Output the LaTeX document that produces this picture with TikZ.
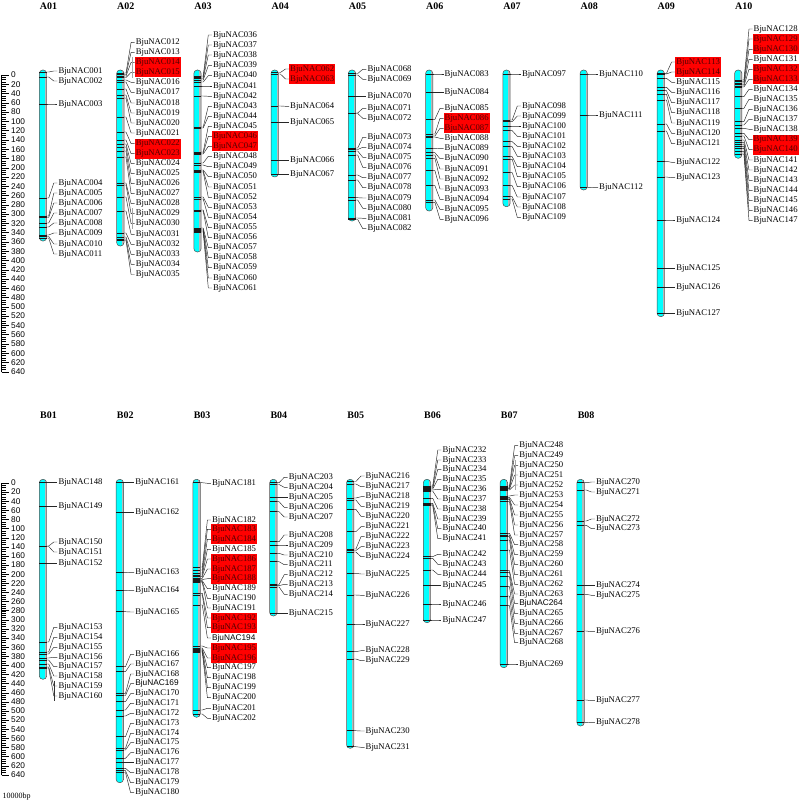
\documentclass[tikz,border=0pt]{standalone}
\usepackage{fontspec}
\setmainfont{Liberation Serif}
\setsansfont{Liberation Sans}
\usetikzlibrary{calc}
\definecolor{boxtext}{RGB}{80,0,0}
\definecolor{chromocyan}{RGB}{0,255,255}

\tikzset{
  labn/.style={anchor=west, font=\fontsize{8.7}{9}\selectfont, inner xsep=1pt, inner ysep=1pt, text height=6.3pt, text depth=1.9pt},
  labr/.style={labn, fill=red, text=boxtext},
  labs/.style={labn, font=\sffamily\fontsize{8.3}{9}\selectfont},
  lead/.style={line width=0.45pt, black!85},
  band/.style={line width=0.45pt, black!90},
  title/.style={font=\bfseries\fontsize{10}{12}\selectfont},
  tandem/.style={gray!70, line width=1pt},
  scalelab/.style={anchor=west, inner sep=0pt, font=\sffamily\fontsize{8.3}{9}\selectfont},
}

% chromosome: name, x centre, top, bottom, title y
\newcommand{\chromosome}[5]{%
  \begin{scope}
    \clip[rounded corners=3.5pt] (#2-3.7,#3) rectangle (#2+3.7,#4);
    \fill[chromocyan] (#2-3.7,#3) rectangle (#2+3.7,#4);
    \fill[gray!55] (#2+1.8,#3) rectangle (#2+3.7,#4);
  \end{scope}
  \draw[black!70, line width=0.5pt, rounded corners=3.5pt] (#2-3.7,#3) rectangle (#2+3.7,#4);
  \node[title] (t#1) at (#2+5.5,#5) {#1};
}
% genes: x centre, list marker/label/number/style
\newcommand{\genes}[2]{%
  \foreach \m/\l/\n/\s in {#2} {
    \coordinate (m\n) at (#1+3.7,\m);
    \node[style=lab\s] (g\n) at (#1+14.3,\l) {BjuNAC\n};
    \draw[band] (#1-3.7,\m) -- (m\n);
    \draw[lead] (m\n) -- ++(2,0) -- ($(g\n.west)+(-3.5,0)$) -- (g\n.west);
  }
}
% scale bar: y of 0, px per unit
\newcommand{\scalebar}[2]{%
  \draw[line width=0.5pt] (1.5,#1) -- (1.5,#1+640*#2);
  \foreach \u in {0,5,...,640} {\draw[line width=0.35pt] (1.5,#1+\u*#2) -- ++(4.5,0);}
  \foreach \u in {0,20,...,640} {
    \draw[line width=0.4pt] (1.5,#1+\u*#2) -- ++(7,0);
    \node[scalelab] at (11,#1+\u*#2) {\u};
  }
}

\begin{document}
\begin{tikzpicture}[x=1pt,y=-1pt]
  \useasboundingbox (0,0) rectangle (800,805);
  \scalebar{75}{0.4636}
  \scalebar{483}{0.456}
  \node[anchor=west, inner sep=0pt, font=\fontsize{8}{9}\selectfont] (unit) at (2.5,797) {10000bp};

  % A genome
  \chromosome{A01}{43}{70}{241}{6}
  \genes{43}{72/71/001/n, 77/81/002/n, 104/104/003/n, 198/183/004/n, 216/193/005/n, 217.5/203/006/n,
    223/213/007/n, 227/223/008/n, 235/233/009/n, 236.5/244/010/n, 238/254/011/n}

  \chromosome{A02}{120.3}{70}{246}{6}
  \genes{120.3}{73/42.3/012/n, 74.5/52.3/013/n, 76/62.3/014/r, 77.5/72.3/015/r, 80/82.3/016/n, 82/92.3/017/n,
    89/103/018/n, 95/113/019/n, 98/123/020/n, 117/133/021/n, 132/143.7/022/r, 140/153.7/023/r,
    144/163.7/024/n, 147/173.7/025/n, 151/183.7/026/n, 157/193.7/027/n, 183/203.7/028/n, 185/213.7/029/n,
    197/223.7/030/n, 211/234.3/031/n, 233/244.3/032/n, 237/254.3/033/n, 239/264.3/034/n, 240.5/274.5/035/n}
  \draw[tandem] ([xshift=-2.5pt]g014.north west) -- ([xshift=-2.5pt]g015.south west);
  \draw[tandem] ([xshift=-2.5pt]g029.north west) -- ([xshift=-2.5pt]g030.south west);

  \chromosome{A03}{197.5}{70}{252}{6}
  \genes{197.5}{76/35/036/n, 77/45/037/n, 78.5/55/038/n, 80/65.7/039/n, 82/75.7/040/n, 86/86/041/n,
    96/96.3/042/n, 127/106.3/043/n, 128/116.3/044/n, 152/126.3/045/n, 153/136.3/046/r, 154/146.3/047/r,
    163/156.3/048/n, 165/166.7/049/n, 170/176.7/050/n, 171/187/051/n, 172/197.3/052/n, 197/207.3/053/n,
    199/217.3/054/n, 210/227.7/055/n, 211/237.7/056/n, 228/247.7/057/n, 229/257.7/058/n, 230/267.7/059/n,
    231/278/060/n, 232/288/061/n}

  \chromosome{A04}{274.7}{70}{177}{6}
  \genes{274.7}{72.5/69/062/r, 74/79/063/r, 106/106.3/064/n, 122.7/122.7/065/n, 160.3/160.3/066/n, 174.3/174.3/067/n}

  \chromosome{A05}{352}{70}{221}{6}
  \genes{352}{73.5/69.3/068/n, 75/79.3/069/n, 96.3/96.3/070/n, 113/108.3/071/n, 113.5/118.3/072/n,
    148/137.3/073/n, 149.5/147.3/074/n, 151/157.3/075/n, 155/167.3/076/n, 175/177.7/077/n, 180/187.7/078/n,
    197.7/198/079/n, 200/208.3/080/n, 218/218.3/081/n, 219.5/228.7/082/n}

  \chromosome{A06}{429.2}{70}{211}{6}
  \genes{429.2}{74/74/083/n, 92.7/92.7/084/n, 119.3/108.3/085/n, 134/118.3/086/r, 136/128.3/087/r,
    137/138.3/088/n, 148.3/148.7/089/n, 152.7/158.7/090/n, 155/169/091/n, 158.3/179/092/n, 170.7/189/093/n,
    185.7/199.3/094/n, 200/209.3/095/n, 202.3/219.3/096/n}

  \chromosome{A07}{506.5}{70}{206.7}{6}
  \genes{506.5}{74/74/097/n, 120/106/098/n, 121.7/116/099/n, 126/126/100/n, 130.7/136.3/101/n,
    141.7/146.3/102/n, 146.7/156.3/103/n, 156.7/166.7/104/n, 159.3/176.7/105/n, 172.7/186.7/106/n,
    185.7/197/107/n, 196.7/207/108/n, 199/217.3/109/n}

  \chromosome{A08}{583.7}{70}{190}{6}
  \genes{583.7}{74/74/110/n, 115/115/111/n, 187.3/187.7/112/n}

  \chromosome{A09}{660.8}{70}{316.7}{6}
  \genes{660.8}{73.3/62/113/r, 74/72/114/r, 78.3/82.3/115/n, 87.3/92.3/116/n, 90.7/102.7/117/n,
    94.3/112.7/118/n, 100/123/119/n, 124/133.3/120/n, 131/143.7/121/n, 161.3/162.3/122/n, 177/177.7/123/n,
    220/220/124/n, 268.7/268.7/125/n, 287.7/287.7/126/n, 313.7/313.7/127/n}

  \chromosome{A10}{738.2}{70}{158.3}{6}
  \genes{738.2}{80/29/128/n, 81.5/39/129/r, 83/49.3/130/r, 84.5/59.3/131/n, 86/69.3/132/r, 87/79.3/133/r,
    96.7/89.3/134/n, 108.3/99.3/135/n, 121.7/109.3/136/n, 125/119.3/137/n, 128.3/129.3/138/n,
    133.3/139.7/139/r, 136/149.7/140/r, 140/160/141/n, 142.7/170/142/n, 144.5/180.3/143/n,
    146.7/190.7/144/n, 148.3/200.7/145/n, 151.7/210.7/146/n, 154/220.7/147/n}

  % B genome
  \chromosome{B01}{43}{479.3}{679.3}{415}
  \genes{43}{482.7/482.7/148/n, 506.7/506.7/149/n, 546/542/150/n, 546.5/552/151/n, 563.3/563.3/152/n,
    642/627.3/153/n, 652/637.3/154/n, 654/647.3/155/n, 658/657.3/156/n, 660/666.7/157/n, 664/676/158/n,
    667/686/159/n, 668/696/160/n}
  \draw[black!80, line width=0.8pt] ([xshift=-2.5pt]g159.north west) -- ([xshift=-2.5pt]g160.south west);

  \chromosome{B02}{119.8}{479.3}{782.7}{415}
  \genes{119.8}{482.7/482.7/161/n, 512.7/512.7/162/n, 572.3/572.7/163/n, 590.3/590.7/164/n, 611.7/612/165/n,
    666.7/654.3/166/n, 671.7/664/167/n, 693.3/674/168/n, 695.5/683.7/169/s, 701.7/693.7/170/n,
    710/703.3/171/n, 716/713.3/172/n, 736.7/723.3/173/n, 748.3/733.3/174/n, 750/742.7/175/n,
    758.3/752.7/176/n, 762.7/762.7/177/n, 768.3/772.7/178/n, 770.7/782.7/179/n, 772.5/792.7/180/n}

  \chromosome{B03}{196.6}{479.3}{717.3}{415}
  \genes{196.6}{482.7/483.3/181/n, 567/520/182/n, 570/529.3/183/r, 573/539.3/184/r, 575/549.3/185/n,
    576.7/559/186/r, 578.3/569/187/r, 579.5/578.7/188/r, 580.7/588.7/189/n, 581.7/598.3/190/n,
    582.5/608/191/n, 593.3/618/192/r, 595/627.7/193/r, 605/638/194/s, 646/648/195/r, 648/658/196/r,
    649/667.7/197/n, 650/677.7/198/n, 651/687.7/199/n, 652/697.7/200/n, 710/708.3/201/n, 714/718.3/202/n}

  \chromosome{B04}{273.4}{479.3}{616}{415}
  \genes{273.4}{482.7/477.3/203/n, 484.5/487.3/204/n, 497.3/497.3/205/n, 501.7/507.3/206/n, 511.7/517/207/n,
    541.7/535/208/n, 545/545/209/n, 553.3/555/210/n, 561.7/564.7/211/n, 584.5/574.7/212/n,
    585.7/584.3/213/n, 587/594.3/214/n, 613.3/613.3/215/n}

  \chromosome{B05}{350.2}{479.3}{748.3}{415}
  \genes{350.2}{481.5/476/216/n, 484/486.7/217/n, 498/496.7/218/n, 500/506.3/219/n, 509.3/516.3/220/n,
    531.7/526.7/221/n, 549/536.7/222/n, 550.5/546.7/223/n, 552/556.7/224/n, 573.3/574/225/n,
    595/595.3/226/n, 624/624/227/n, 651.7/650.7/228/n, 659/660.7/229/n, 730.7/731/230/n, 746.7/747.3/231/n}

  \chromosome{B06}{427}{479.3}{622.7}{415}
  \genes{427}{486/450/232/n, 487/460/233/n, 488/469.3/234/n, 489/479.3/235/n, 490/489.3/236/n, 491/499/237/n,
    498.3/509/238/n, 503.3/519/239/n, 504.5/528.7/240/n, 505.5/538.7/241/n, 556.7/554.3/242/n,
    558.3/564.3/243/n, 570/574.3/244/n, 585.7/585.7/245/n, 604/604/246/n, 620/620/247/n}

  \chromosome{B07}{503.8}{479.3}{667.7}{415}
  \genes{503.8}{486/445.7/248/n, 487.5/455.7/249/n, 488.3/465.3/250/n, 489/475/251/n, 490/485/252/n,
    496/495/253/n, 497.3/505/254/n, 498.5/515/255/n, 499.3/525/256/n, 501.7/535/257/n, 533.3/544.7/258/n,
    535/554.7/259/n, 536.7/564.7/260/n, 540/574.7/261/n, 550/584.3/262/n, 570.7/594/263/n,
    572.3/603.7/264/s, 576.7/613.7/265/n, 586.7/623.3/266/n, 596/633.3/267/n, 605.7/642.7/268/n, 664/664/269/n}
  \draw[tandem] ([xshift=-2.5pt]g250.north west) -- ([xshift=-2.5pt]g252.south west);

  \chromosome{B08}{580.6}{479.3}{726}{415}
  \genes{580.6}{482.7/482/270/n, 490/492/271/n, 521/519/272/n, 525.3/528.7/273/n, 585.3/585.3/274/n,
    594.3/595.3/275/n, 631/631.7/276/n, 700/700.7/277/n, 722.3/722.7/278/n}
\end{tikzpicture}
\end{document}
